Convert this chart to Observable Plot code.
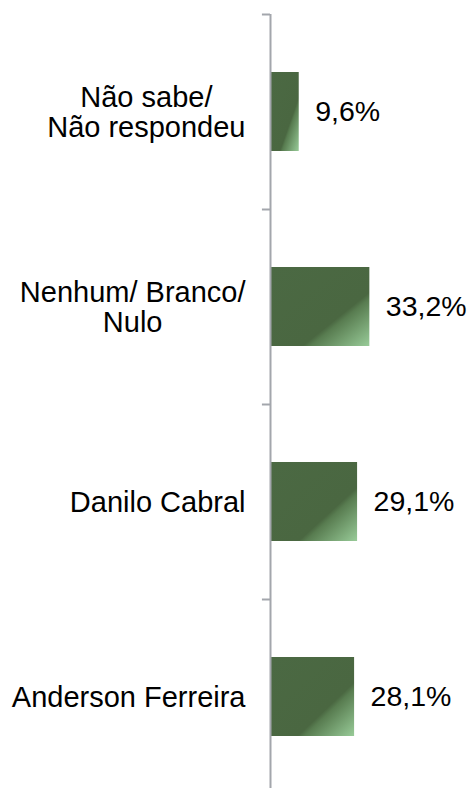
<!DOCTYPE html>
<html>
<head>
<meta charset="utf-8">
<script src="https://cdn.jsdelivr.net/npm/d3@7"></script>
<script src="https://cdn.jsdelivr.net/npm/@observablehq/plot@0.6"></script>
<style>
  html, body { margin: 0; padding: 0; background: #ffffff; }
  #chart svg { display: block; }
</style>
</head>
<body>
<div id="chart"></div>
<script>
// Data
const categories = ["Não sabe/\nNão respondeu", "Nenhum/ Branco/\nNulo", "Danilo Cabral", "Anderson Ferreira"];
const values = [9.6, 33.2, 29.1, 28.1];

const data = categories.map((c, i) => ({label: c, value: values[i]}));
const fmt = v => v.toFixed(1).replace(".", ",") + "%";
const FONT = "'Liberation Sans', Arial, Helvetica, sans-serif";
const LABEL_SIZE = 29;

// gradient definition mark
const gradientDefs = () => {
  const defs = d3.create("svg:defs");
  const g = defs.append("linearGradient")
    .attr("id", "barGrad")
    .attr("x1", 0).attr("y1", 0).attr("x2", 1).attr("y2", 1);
  g.append("stop").attr("offset", 0).attr("stop-color", "#4b6943");
  g.append("stop").attr("offset", 0.66).attr("stop-color", "#4a6741");
  g.append("stop").attr("offset", 0.70).attr("stop-color", "#587c50");
  g.append("stop").attr("offset", 1).attr("stop-color", "#98cb98");
  return defs.node();
};

// re-centre multi-line labels on each other, with the block right-aligned
const centreLines = (index, scales, vals, dims, ctx, next) => {
  const g = next(index, scales, vals, dims, ctx);
  const c = document.createElement("canvas").getContext("2d");
  c.font = `${LABEL_SIZE}px ${FONT}`;
  for (const t of g.querySelectorAll("text")) {
    const spans = [...t.querySelectorAll("tspan")];
    const lines = spans.length ? spans.map(s => s.textContent) : [t.textContent];
    const w = Math.max(...lines.map(l => c.measureText(l).width));
    const tr = t.getAttribute("transform") || "translate(0,0)";
    t.setAttribute("transform", tr.replace(/translate\(\s*([-\d.eE]+)/, (m, a) => `translate(${+a - w / 2}`));
  }
  return g;
};

const chart = Plot.plot({
  width: 469,
  height: 788,
  marginLeft: 270,
  marginRight: 0,
  marginTop: 14,
  marginBottom: 0,
  style: {fontFamily: FONT, color: "#000", background: "#fff"},
  x: {domain: [0, 66.5], axis: null},
  y: {domain: categories, range: [14, 794], padding: 0, axis: null},
  marks: [
    gradientDefs,
    Plot.barX(data, {y: "label", x: "value", fill: "url(#barGrad)", insetTop: 58, insetBottom: 58, insetLeft: 1}),
    Plot.ruleX([0], {stroke: "#a3a6ac", strokeWidth: 2}),
    Plot.ruleY(categories, {y: d => d, x1: -2.7, x2: 0, dy: -97.5, stroke: "#a3a6ac", strokeWidth: 2}),
    Plot.text(data, {y: "label", x: 0, text: "label", dx: -25, textAnchor: "middle", lineAnchor: "middle", lineHeight: 1.05, fontSize: LABEL_SIZE, fill: "#000", render: centreLines}),
    Plot.text(data, {y: "label", x: "value", text: d => fmt(d.value), dx: 16, textAnchor: "start", fontSize: 28.5, fill: "#000"})
  ]
});
document.getElementById("chart").append(chart);
</script>
</body>
</html>
